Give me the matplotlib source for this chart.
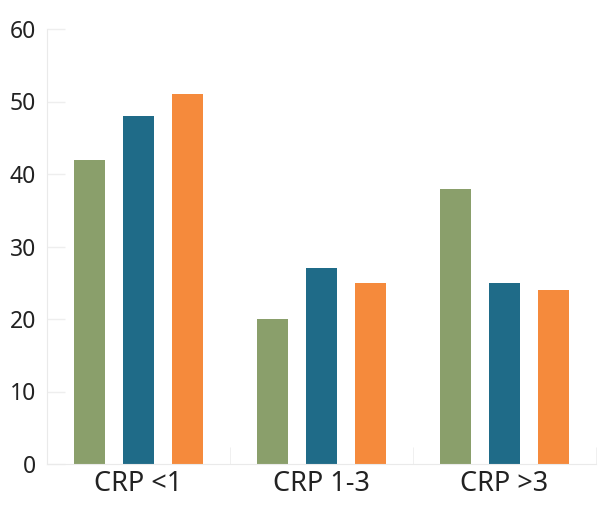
import matplotlib.pyplot as plt
import numpy as np

# Data
categories = ["CRP <1", "CRP 1-3", "CRP >3"]
series_a = [42, 20, 38]
series_b = [48, 27, 25]
series_c = [51, 25, 24]
colors = ["#8a9f6b", "#1f6b88", "#f58a3c"]

plt.rcParams["font.family"] = ["Noto Sans", "DejaVu Sans"]

fig = plt.figure(figsize=(6, 5.16), dpi=100)
ax = fig.add_axes([47 / 600, 1 - 464 / 516, (596 - 47) / 600, (464 - 29) / 516])

x = np.arange(len(categories))
w = 0.17
gap = 0.267
for i, (vals, c) in enumerate(zip([series_a, series_b, series_c], colors)):
    ax.bar(x + (i - 1) * gap, vals, width=w, color=c)

ax.set_xlim(-0.5, 2.5)
ax.set_ylim(0, 60)
ax.set_yticks(range(0, 61, 10))
ax.set_xticks(x)
ax.set_xticklabels(categories, fontsize=19.5, color="#222222")
ax.tick_params(axis="y", labelsize=16.5, colors="#222222", direction="in",
               length=13, width=1, color="#eeeeee", pad=8)
ax.tick_params(axis="x", length=0, pad=4)
# faint group separators at the bottom
ax.set_xticks([0.5, 1.5, 2.5], minor=True)
ax.tick_params(axis="x", which="minor", direction="in", length=12, color="#eeeeee")

for s in ["top", "right"]:
    ax.spines[s].set_visible(False)
for s in ["left", "bottom"]:
    ax.spines[s].set_color("#eaeaea")

fig.savefig("out.png", dpi=100)
